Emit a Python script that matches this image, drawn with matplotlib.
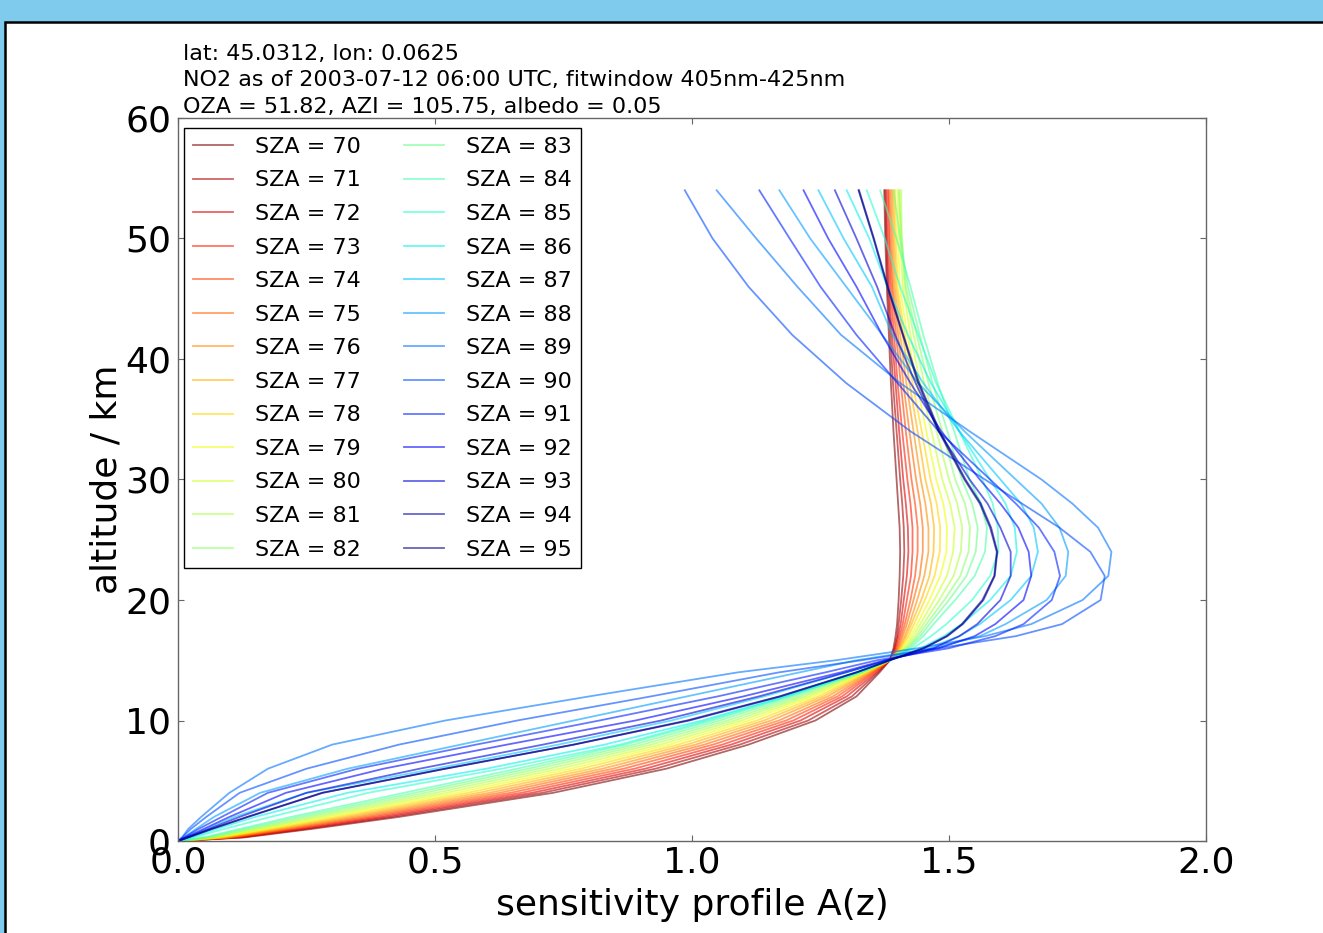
import numpy as np
import matplotlib
matplotlib.use("Agg")
import matplotlib.pyplot as plt
from matplotlib.patches import Rectangle
from matplotlib.ticker import FormatStrFormatter

# altitude grid of the profiles (km)
altitude_km = [0, 0.3, 1, 2, 4, 6, 8, 10, 12, 14, 15, 16, 17, 18, 20, 22, 24, 26,
               28, 30, 34, 38, 42, 46, 50, 54]

sza_deg = list(range(70, 96))

# sensitivity profile A(z) per solar zenith angle, one value per altitude level
a_sza70 = [0, 0.13, 0.26, 0.43, 0.73, 0.95, 1.11, 1.24, 1.32, 1.365, 1.385, 1.392, 1.396, 1.399,
           1.402, 1.404, 1.405, 1.404, 1.401, 1.398, 1.392, 1.387, 1.383, 1.379, 1.376, 1.374]
a_sza71 = [0, 0.124, 0.25, 0.415, 0.709, 0.929, 1.093, 1.226, 1.311, 1.362, 1.385, 1.394, 1.399, 1.402,
           1.407, 1.411, 1.413, 1.412, 1.409, 1.405, 1.398, 1.391, 1.386, 1.381, 1.378, 1.376]
a_sza72 = [0, 0.119, 0.24, 0.40, 0.689, 0.909, 1.076, 1.211, 1.301, 1.359, 1.385, 1.395, 1.401, 1.406,
           1.412, 1.418, 1.421, 1.420, 1.416, 1.411, 1.403, 1.396, 1.389, 1.383, 1.380, 1.378]
a_sza73 = [0, 0.113, 0.23, 0.385, 0.668, 0.888, 1.059, 1.197, 1.292, 1.355, 1.385, 1.397, 1.404, 1.410,
           1.418, 1.426, 1.429, 1.429, 1.425, 1.419, 1.409, 1.400, 1.393, 1.386, 1.383, 1.381]
a_sza74 = [0, 0.107, 0.22, 0.37, 0.647, 0.867, 1.041, 1.183, 1.283, 1.352, 1.385, 1.399, 1.407, 1.414,
           1.425, 1.434, 1.439, 1.439, 1.434, 1.427, 1.416, 1.406, 1.397, 1.389, 1.385, 1.383]
a_sza75 = [0, 0.101, 0.21, 0.355, 0.626, 0.846, 1.024, 1.169, 1.274, 1.349, 1.385, 1.401, 1.410, 1.418,
           1.431, 1.443, 1.449, 1.449, 1.444, 1.436, 1.423, 1.411, 1.401, 1.391, 1.388, 1.386]
a_sza76 = [0, 0.096, 0.20, 0.34, 0.606, 0.826, 1.007, 1.154, 1.264, 1.346, 1.385, 1.403, 1.414, 1.423,
           1.438, 1.452, 1.460, 1.460, 1.454, 1.445, 1.431, 1.417, 1.405, 1.394, 1.391, 1.389]
a_sza77 = [0, 0.090, 0.19, 0.325, 0.585, 0.805, 0.990, 1.140, 1.255, 1.343, 1.385, 1.405, 1.417, 1.427,
           1.446, 1.462, 1.470, 1.471, 1.465, 1.454, 1.439, 1.423, 1.410, 1.397, 1.394, 1.392]
a_sza78 = [0, 0.084, 0.18, 0.31, 0.564, 0.784, 0.973, 1.126, 1.246, 1.339, 1.385, 1.407, 1.421, 1.432,
           1.453, 1.472, 1.482, 1.483, 1.476, 1.464, 1.447, 1.429, 1.414, 1.400, 1.397, 1.395]
a_sza79 = [0, 0.079, 0.17, 0.295, 0.544, 0.764, 0.956, 1.111, 1.236, 1.336, 1.385, 1.410, 1.425, 1.438,
           1.462, 1.483, 1.495, 1.496, 1.489, 1.475, 1.456, 1.437, 1.419, 1.404, 1.401, 1.400]
a_sza80 = [0, 0.073, 0.16, 0.28, 0.523, 0.743, 0.939, 1.097, 1.227, 1.333, 1.385, 1.413, 1.430, 1.444,
           1.471, 1.496, 1.508, 1.511, 1.502, 1.487, 1.466, 1.444, 1.425, 1.410, 1.405, 1.404]
a_sza81 = [0, 0.067, 0.15, 0.265, 0.502, 0.722, 0.921, 1.083, 1.218, 1.330, 1.385, 1.416, 1.435, 1.450,
           1.481, 1.509, 1.523, 1.526, 1.516, 1.500, 1.476, 1.452, 1.431, 1.414, 1.408, 1.407]
a_sza82 = [0, 0.061, 0.14, 0.25, 0.481, 0.701, 0.904, 1.069, 1.209, 1.326, 1.385, 1.419, 1.439, 1.456,
           1.491, 1.522, 1.538, 1.541, 1.531, 1.512, 1.487, 1.460, 1.437, 1.416, 1.408, 1.402]
a_sza83 = [0, 0.056, 0.13, 0.235, 0.461, 0.681, 0.887, 1.054, 1.199, 1.323, 1.385, 1.421, 1.444, 1.462,
           1.500, 1.534, 1.552, 1.556, 1.545, 1.525, 1.497, 1.468, 1.443, 1.420, 1.405, 1.392]
a_sza84 = [0, 0.050, 0.12, 0.22, 0.44, 0.66, 0.87, 1.04, 1.19, 1.32, 1.385, 1.425, 1.450, 1.470,
           1.512, 1.550, 1.570, 1.574, 1.562, 1.540, 1.510, 1.478, 1.450, 1.425, 1.398, 1.366]
a_sza85 = [0, 0.030, 0.09, 0.18, 0.37, 0.63, 0.86, 1.03, 1.185, 1.33, 1.385, 1.430, 1.465, 1.495,
           1.545, 1.580, 1.596, 1.595, 1.585, 1.565, 1.520, 1.475, 1.440, 1.405, 1.375, 1.340]
a_sza86 = [0, 0.025, 0.075, 0.15, 0.33, 0.60, 0.83, 1.02, 1.18, 1.32, 1.385, 1.445, 1.490, 1.525,
           1.580, 1.620, 1.632, 1.628, 1.610, 1.580, 1.520, 1.465, 1.420, 1.380, 1.345, 1.301]
a_sza87 = [0, 0.018, 0.055, 0.11, 0.25, 0.50, 0.74, 0.96, 1.14, 1.30, 1.38, 1.460, 1.520, 1.560,
           1.620, 1.660, 1.673, 1.665, 1.640, 1.600, 1.520, 1.450, 1.390, 1.350, 1.295, 1.246]
a_sza88 = [0, 0.012, 0.035, 0.07, 0.16, 0.33, 0.55, 0.77, 0.99, 1.21, 1.32, 1.470, 1.560, 1.610,
           1.690, 1.727, 1.732, 1.715, 1.680, 1.630, 1.530, 1.440, 1.370, 1.300, 1.230, 1.170]
a_sza89 = [0, 0.008, 0.02, 0.045, 0.10, 0.175, 0.30, 0.52, 0.80, 1.09, 1.28, 1.440, 1.570, 1.660,
           1.760, 1.810, 1.816, 1.790, 1.740, 1.680, 1.540, 1.405, 1.290, 1.205, 1.125, 1.048]
a_sza90 = [0, 0.008, 0.025, 0.055, 0.12, 0.25, 0.43, 0.66, 0.92, 1.17, 1.33, 1.480, 1.630, 1.720,
           1.795, 1.803, 1.775, 1.715, 1.642, 1.570, 1.425, 1.300, 1.195, 1.110, 1.040, 0.986]
a_sza91 = [0, 0.012, 0.04, 0.085, 0.175, 0.35, 0.58, 0.82, 1.05, 1.26, 1.36, 1.500, 1.590, 1.645,
           1.700, 1.716, 1.705, 1.675, 1.630, 1.580, 1.480, 1.400, 1.320, 1.250, 1.190, 1.131]
a_sza92 = [0, 0.015, 0.05, 0.10, 0.21, 0.40, 0.64, 0.89, 1.10, 1.29, 1.375, 1.480, 1.550, 1.590,
           1.645, 1.660, 1.655, 1.635, 1.600, 1.560, 1.485, 1.425, 1.370, 1.320, 1.265, 1.217]
a_sza93 = [0, 0.018, 0.06, 0.12, 0.25, 0.47, 0.71, 0.94, 1.13, 1.30, 1.38, 1.470, 1.520, 1.555,
           1.600, 1.620, 1.620, 1.600, 1.575, 1.540, 1.480, 1.435, 1.395, 1.360, 1.320, 1.278]
a_sza94 = [0, 0.020, 0.066, 0.136, 0.282, 0.52, 0.77, 0.995, 1.172, 1.321, 1.385, 1.452, 1.497, 1.527,
           1.567, 1.589, 1.594, 1.582, 1.562, 1.532, 1.482, 1.442, 1.411, 1.381, 1.354, 1.325]
a_sza95 = [0, 0.020, 0.065, 0.135, 0.28, 0.52, 0.77, 0.99, 1.17, 1.32, 1.385, 1.450, 1.495, 1.525,
           1.565, 1.588, 1.593, 1.580, 1.560, 1.530, 1.480, 1.440, 1.410, 1.380, 1.353, 1.324]

profiles = [a_sza70, a_sza71, a_sza72, a_sza73, a_sza74, a_sza75, a_sza76, a_sza77, a_sza78,
            a_sza79, a_sza80, a_sza81, a_sza82, a_sza83, a_sza84, a_sza85, a_sza86, a_sza87,
            a_sza88, a_sza89, a_sza90, a_sza91, a_sza92, a_sza93, a_sza94, a_sza95]

header_lines = [
    "lat: 45.0312, lon: 0.0625",
    "NO2 as of 2003-07-12 06:00 UTC, fitwindow 405nm-425nm",
    "OZA = 51.82, AZI = 105.75, albedo = 0.05",
]

x_ticks = [0.0, 0.5, 1.0, 1.5, 2.0]
y_ticks = [0, 10, 20, 30, 40, 50, 60]


def main():
    W, H = 1323, 933
    dpi = 100
    fig = plt.figure(figsize=(W / dpi, H / dpi), dpi=dpi)
    fig.patch.set_facecolor("#7ecbed")

    # white window panel with a dark frame
    panel = Rectangle((5 / W, -0.05), 1.1, (H - 22) / H + 0.05, transform=fig.transFigure,
                      facecolor="white", edgecolor="black", linewidth=1.8, zorder=-1)
    fig.add_artist(panel)

    ax = fig.add_axes([178 / W, (H - 841) / H, (1206 - 178) / W, (841 - 118) / H])

    colors = plt.cm.jet(np.linspace(1, 0, len(sza_deg)))
    for sza, prof, c in zip(sza_deg, profiles, colors):
        ax.plot(prof, altitude_km, color=c, alpha=0.6, linewidth=1.3, label="SZA = %d" % sza)

    ax.set_xlim(0, 2)
    ax.set_ylim(0, 60)
    ax.set_xticks(x_ticks)
    ax.set_yticks(y_ticks)
    ax.xaxis.set_major_formatter(FormatStrFormatter("%.1f"))
    ax.tick_params(direction="in", top=True, right=True, length=4, width=0.8,
                   color="0.4", labelsize=26)
    ax.tick_params(axis="x", pad=3)
    ax.tick_params(axis="y", pad=5)
    for s in ax.spines.values():
        s.set_color("0.4")
        s.set_linewidth(1.0)

    ax.set_xlabel("sensitivity profile A(z)", fontsize=26, labelpad=6)
    ax.set_ylabel("altitude / km", fontsize=26, labelpad=1)

    leg = ax.legend(loc="upper left", ncol=2, fontsize=16, fancybox=False, framealpha=1,
                    edgecolor="black", borderpad=0.4, labelspacing=0.61, handlelength=1.8,
                    handletextpad=1.0, columnspacing=1.93, borderaxespad=0,
                    bbox_to_anchor=(6 / 1028, 1 - 10 / 723))
    leg.get_frame().set_linewidth(1.0)

    ax.text(5 / 1028, 1.002, "\n".join(header_lines), transform=ax.transAxes,
            fontsize=16, ha="left", va="bottom", linespacing=1.39)

    fig.savefig("out.png", dpi=dpi, facecolor=fig.get_facecolor())
    plt.close(fig)


if __name__ == "__main__":
    main()
